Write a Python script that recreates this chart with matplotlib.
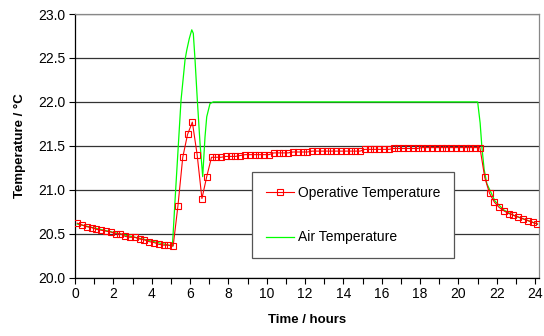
import matplotlib.pyplot as plt
import numpy as np

plt.rcParams['font.family'] = ['Liberation Sans', 'DejaVu Sans']

# operative temperature, one value every 15 minutes
op_time = 0.12 + 0.25 * np.arange(97)
op_temp = [20.62, 20.60, 20.58, 20.57, 20.55, 20.54, 20.53, 20.52, 20.50, 20.50,
           20.47, 20.46, 20.46, 20.44, 20.43, 20.41, 20.40, 20.38, 20.37, 20.37,
           20.36, 20.82, 21.37, 21.63, 21.77, 21.40, 20.90, 21.15,
           21.37, 21.37, 21.37, 21.38, 21.38, 21.38, 21.39,
           21.40, 21.40, 21.40, 21.40, 21.40, 21.40,
           21.42, 21.42, 21.42, 21.42,
           21.43, 21.43, 21.43, 21.43,
           21.44, 21.44, 21.44, 21.44, 21.44, 21.44, 21.44, 21.44, 21.44, 21.44, 21.44,
           21.46, 21.46, 21.46, 21.46, 21.46, 21.46,
           21.47, 21.47, 21.47, 21.47, 21.47, 21.47,
           21.48, 21.48, 21.48, 21.48, 21.48, 21.48, 21.48, 21.48, 21.48, 21.48, 21.48, 21.48, 21.48,
           21.14, 20.96, 20.86, 20.80, 20.76, 20.73, 20.71, 20.69, 20.67, 20.65, 20.63, 20.61]

# air temperature
air_time = [0.12, 1.12, 2.12, 3.12, 4.12, 5.08, 5.25, 5.53, 5.74, 5.83, 5.96, 6.09,
            6.17, 6.26, 6.38, 6.52, 6.66, 6.78, 6.87, 7.04, 7.21, 21.0, 21.13,
            21.22, 21.34, 21.48, 21.65, 21.91, 22.37, 22.87, 23.37, 23.87, 24.12]
air_temp = [20.61, 20.56, 20.51, 20.46, 20.41, 20.36, 21.0, 22.02, 22.48, 22.59, 22.72, 22.82,
            22.78, 22.48, 22.02, 21.53, 21.15, 21.6, 21.83, 21.98, 22.0, 22.0, 21.76,
            21.49, 21.23, 21.07, 20.99, 20.87, 20.77, 20.71, 20.67, 20.63, 20.61]

fig = plt.figure(figsize=(5.44, 3.36), dpi=100)
ax = fig.add_axes([75 / 544, 58.3 / 336, 464 / 544, 263.7 / 336])

ax.plot(op_time, op_temp, color='#ff0000', lw=0.8, marker='s', markersize=4.3,
        markerfacecolor='none', markeredgewidth=0.8, label='Operative Temperature', zorder=3)
ax.plot(air_time, air_temp, color='#00ff00', lw=0.9, label='Air Temperature', zorder=2)

ax.set_xlim(0, 24.2)
ax.set_ylim(20.0, 23.0)
ax.set_xticks(np.arange(0, 25, 2))
ax.set_xticks(np.arange(0, 25, 1), minor=True)
ax.set_yticks(np.arange(20.0, 23.01, 0.5))
ax.set_yticklabels([f'{v:.1f}' for v in np.arange(20.0, 23.01, 0.5)])
ax.tick_params(which='both', direction='out', length=4, width=0.8, labelsize=10, pad=3)
ax.yaxis.grid(True, color='#333333', lw=0.9)
ax.set_axisbelow(True)

for s in ['left', 'bottom']:
    ax.spines[s].set_color('black')
    ax.spines[s].set_linewidth(0.9)
for s in ['top', 'right']:
    ax.spines[s].set_color('#888888')
    ax.spines[s].set_linewidth(0.9)

ax.set_xlabel('Time / hours', fontsize=9.5, fontweight='bold', labelpad=9)
ax.set_ylabel('Temperature / \u00b0C', fontsize=9.5, fontweight='bold', labelpad=9)

leg = ax.legend(loc='upper left', bbox_to_anchor=(0.3815, 0.4008), fontsize=10,
                frameon=True, fancybox=False, edgecolor='#555555', framealpha=1,
                borderpad=1.0, labelspacing=2.2, handlelength=2.0, handletextpad=0.3,
                borderaxespad=0)
leg.get_frame().set_linewidth(0.9)

fig.savefig('out.png', dpi=100)
